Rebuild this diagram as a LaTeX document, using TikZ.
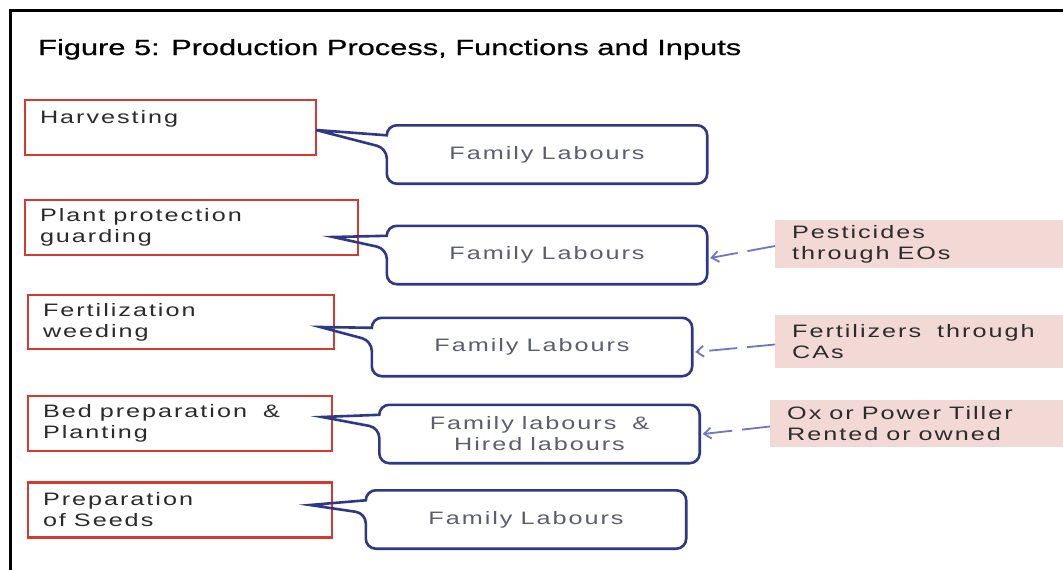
\documentclass[tikz,border=0pt]{standalone}
\usepackage{fontspec}
\setmainfont{Liberation Sans}
\newfontfamily\titlefont[FakeStretch=1.4,FakeBold=0.6]{Liberation Sans}
\newfontfamily\boxfont[FakeStretch=1.4,LetterSpace=11]{Liberation Sans}
\newcommand\wordgap{\hspace{8pt}}
\newcommand\widegap{\hspace{16pt}}
\usetikzlibrary{arrows.meta}
\definecolor{stepred}{HTML}{D43A30}
\definecolor{labourblue}{HTML}{2F3886}
\definecolor{inputpink}{HTML}{F2D9D6}
\definecolor{feedblue}{HTML}{6E76C6}
\definecolor{labourtext}{HTML}{5C5E6E}
\definecolor{steptext}{HTML}{2B2B2B}

% rounded box whose left side opens into a pointer towards #2
\newcommand\labourcallout[2]{%
  \draw[calloutline] ([yshift=-10pt]#1.north west) [rounded corners=10pt]
    -- (#1.north west) -- (#1.north east) -- (#1.south east) -- (#1.south west)
    -- ([yshift=-23pt]#1.north west) [sharp corners] -- (#2) -- cycle;}

\begin{document}
\begin{tikzpicture}[x=1pt,y=-1pt,
  every node/.style={font=\boxfont\fontsize{18}{21}\selectfont},
  stepbox/.style={draw=stepred, line width=2.6pt, inner xsep=15pt, inner ysep=0pt,
    align=left, text=steptext},
  labourbox/.style={minimum width=320pt, minimum height=58pt, inner sep=0pt,
    align=center, text=labourtext},
  calloutline/.style={draw=labourblue, line width=2.6pt},
  inputbox/.style={fill=inputpink, anchor=west, inner xsep=17pt, inner ysep=0pt,
    text width=300pt, align=left, text=steptext},
  feedarrow/.style={draw=feedblue, line width=1.8pt, dash pattern=on 28pt off 10pt,
    -{Straight Barb[length=7pt,width=11pt]}}]

\useasboundingbox (0,0) rectangle (1063,570);
\clip (0,0) rectangle (1063,570);
\fill[white] (0,0) rectangle (1063,570);

% outer frame
\draw[line width=3pt] (10,600) -- (10,10) -- (1100,10);

% title
\node[anchor=base west, inner sep=0pt, font=\titlefont\fontsize{22}{26}\selectfont, text=black]
  (title) at (38,55) {Figure 5: Production Process, Functions and Inputs};

% production steps
\node[stepbox, text width=261pt, minimum height=55pt] (r1) at (170.5,127.5) {Harvesting\\\mbox{}};
\node[stepbox, text width=303pt, minimum height=55pt] (r2) at (191.5,227.5) {Plant\wordgap protection\\guarding};
\node[stepbox, text width=276pt, minimum height=54pt] (r3) at (181,322) {Fertilization\\weeding};
\node[stepbox, text width=274pt, minimum height=55pt] (r4) at (180,423.5) {Bed\wordgap preparation\widegap\&\\Planting};
\node[stepbox, text width=274pt, minimum height=55pt] (r5) at (180,510) {Preparation\\of\wordgap Seeds};

% labour callouts
\node[labourbox] (c1) at (547,154.5) {Family\wordgap Labours};
\node[labourbox] (c2) at (547,255) {Family\wordgap Labours};
\node[labourbox] (c3) at (532,347) {Family\wordgap Labours};
\node[labourbox] (c4) at (539.5,434) {Family\wordgap labours\widegap\&\\Hired\wordgap labours};
\node[labourbox] (c5) at (526,519.5) {Family\wordgap Labours};

\coordinate (t1) at (316,130);
\coordinate (t2) at (333,237);
\coordinate (t3) at (320,327);
\coordinate (t4) at (322,417);
\coordinate (t5) at (310,505);

\labourcallout{c1}{t1}
\labourcallout{c2}{t2}
\labourcallout{c3}{t3}
\labourcallout{c4}{t4}
\labourcallout{c5}{t5}

% inputs
\node[inputbox, minimum height=48pt] (p1) at (775,244) {Pesticides\\through\wordgap EOs};
\node[inputbox, minimum height=53pt] (p2) at (775,341.5) {Fertilizers\widegap through\\CAs};
\node[inputbox, minimum height=47pt] (p3) at (770,423.5) {Ox\wordgap or\wordgap Power\wordgap Tiller\\Rented\wordgap or\wordgap owned};

\draw[feedarrow] ([yshift=-2pt]p1.west) -- ([xshift=3pt,yshift=-3pt]c2.east);
\draw[feedarrow] ([yshift=-3pt]p2.west) -- ([xshift=3pt,yshift=-5pt]c3.east);
\draw[feedarrow] ([yshift=-3pt]p3.west) -- ([xshift=3pt]c4.east);
\end{tikzpicture}
\end{document}
